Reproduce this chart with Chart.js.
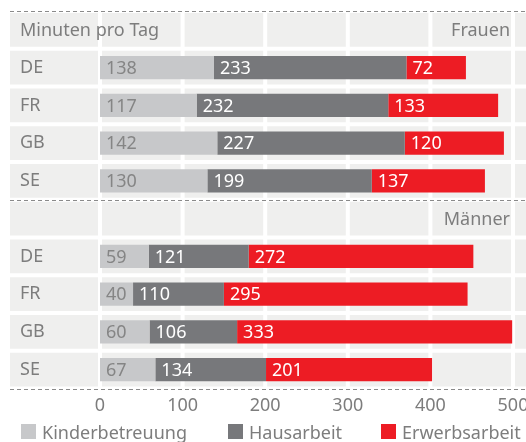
<!DOCTYPE html>
<html>
<head>
<meta charset="utf-8">
<script src="https://cdn.jsdelivr.net/npm/chart.js@4/dist/chart.umd.min.js"></script>
<style>
  html, body { margin: 0; padding: 0; background: #fff; }
  #wrap { position: relative; width: 526px; height: 442px; overflow: hidden; }
  #c { position: absolute; left: 0; top: 0; }
  .lg { position: absolute; top: 424px; height: 15px; display: flex; align-items: center; white-space: nowrap;
        font-family: "Noto Sans", sans-serif; font-size: 18px; color: #7d7d7d; }
  .lg i { display: inline-block; width: 15px; height: 15px; margin-right: 6px; }
</style>
</head>
<body>
<div id="wrap">
  <canvas id="c" width="526" height="442"></canvas>
  <div id="legend"></div>
</div>
<script>
// ---- data ----
const categories = ['Minuten pro Tag', 'DE', 'FR', 'GB', 'SE', '', 'DE', 'FR', 'GB', 'SE'];
const headerRows = [0, 5];
const panelTitles = ['Frauen', 'Männer'];
const seriesNames = ['Kinderbetreuung', 'Hausarbeit', 'Erwerbsarbeit'];
const kinderbetreuung = [null, 138, 117, 142, 130, null, 59, 40, 60, 67];
const hausarbeit      = [null, 233, 232, 227, 199, null, 121, 110, 106, 134];
const erwerbsarbeit   = [null, 72, 133, 120, 137, null, 272, 295, 333, 201];
const xTicks = [0, 100, 200, 300, 400, 500];

// ---- styles ----
const colors = ['#c7c8ca', '#77787b', '#ed1c24'];
const labelColors = ['#858585', '#ffffff', '#ffffff'];
const textGray = '#7d7d7d';
const cellGray = '#efefee';
const FONT = '"Noto Sans", sans-serif';

const bgPlugin = {
  id: 'cells',
  beforeDraw(chart) {
    const ctx = chart.ctx, x = chart.scales.x, y = chart.scales.y, area = chart.chartArea;
    const W = chart.width;
    const n = categories.length;
    const h = (area.bottom - area.top) / n;
    const edges = [10];
    xTicks.forEach(v => edges.push(x.getPixelForValue(v)));
    edges.push(W + 4);
    ctx.save();
    ctx.fillStyle = cellGray;
    for (let r = 0; r < n; r++) {
      const y0 = area.top + r * h + 2, y1 = area.top + (r + 1) * h - 2;
      for (let c = 0; c < edges.length - 1; c++) {
        const x0 = c === 0 ? edges[0] : edges[c] + 2;
        const x1 = edges[c + 1] - 2;
        ctx.fillRect(x0, y0, x1 - x0, y1 - y0);
      }
    }
    // dashed separators
    ctx.strokeStyle = '#8a8a8a';
    ctx.lineWidth = 1;
    ctx.setLineDash([4, 3]);
    [0, 5, 10].forEach(r => {
      const yy = Math.round(area.top + r * h) + 0.5;
      ctx.beginPath();
      ctx.moveTo(10, yy);
      ctx.lineTo(W, yy);
      ctx.stroke();
    });
    ctx.setLineDash([]);
    // header rows: axis caption (left) and panel titles (right)
    ctx.font = '18px ' + FONT;
    ctx.fillStyle = textGray;
    ctx.textBaseline = 'middle';
    headerRows.forEach((r, i) => {
      const yy = y.getPixelForValue(r) + 1;
      if (categories[r]) {
        ctx.textAlign = 'left';
        ctx.fillText(categories[r], 20, yy);
      }
      ctx.textAlign = 'right';
      ctx.fillText(panelTitles[i], x.getPixelForValue(500) - 3, yy);
    });
    ctx.restore();
  },
  afterDatasetsDraw(chart) {
    const ctx = chart.ctx;
    ctx.save();
    ctx.font = '18px ' + FONT;
    ctx.textAlign = 'left';
    ctx.textBaseline = 'middle';
    chart.data.datasets.forEach((ds, di) => {
      const meta = chart.getDatasetMeta(di);
      meta.data.forEach((el, i) => {
        const v = ds.data[i];
        if (v == null) return;
        ctx.fillStyle = labelColors[di];
        ctx.fillText(String(v), Math.min(el.x, el.base) + 6, el.y + 1);
      });
    });
    ctx.restore();
  }
};

const chart = new Chart(document.getElementById('c'), {
  type: 'bar',
  data: {
    labels: categories,
    datasets: [
      { label: seriesNames[0], data: kinderbetreuung, backgroundColor: colors[0] },
      { label: seriesNames[1], data: hausarbeit, backgroundColor: colors[1] },
      { label: seriesNames[2], data: erwerbsarbeit, backgroundColor: colors[2] }
    ]
  },
  options: {
    indexAxis: 'y',
    responsive: false,
    animation: false,
    devicePixelRatio: 1,
    layout: { padding: { top: 11, right: 13, bottom: 0, left: 20 } },
    datasets: { bar: { categoryPercentage: 1, barPercentage: 0.61, borderWidth: 0 } },
    plugins: { legend: { display: false }, tooltip: { enabled: false } },
    scales: {
      x: {
        stacked: true, min: 0, max: 500,
        afterBuildTicks: s => { s.ticks = xTicks.map(v => ({ value: v })); },
        afterFit: s => { s.paddingLeft = 0; s.paddingRight = 0; s.height = 53.5; },
        grid: { display: false, drawTicks: false },
        border: { display: false },
        ticks: { padding: 7, color: textGray, font: { family: FONT, size: 18 } }
      },
      y: {
        stacked: true,
        afterFit: s => { s.width = 80; s.paddingTop = 0; s.paddingBottom = 0; },
        grid: { display: false, drawTicks: false },
        border: { display: false },
        ticks: { autoSkip: false, crossAlign: 'far', padding: 0, color: textGray,
                 font: { family: FONT, size: 18 },
                 callback: (v, i) => headerRows.includes(i) ? '' : categories[i] }
      }
    }
  },
  plugins: [bgPlugin]
});

// ---- HTML legend ----
const legendLeft = [21, 228, 381];
const lg = document.getElementById('legend');
seriesNames.forEach((name, i) => {
  const d = document.createElement('div');
  d.className = 'lg';
  d.style.left = legendLeft[i] + 'px';
  const sw = document.createElement('i');
  sw.style.background = colors[i];
  d.appendChild(sw);
  d.appendChild(document.createTextNode(name));
  lg.appendChild(d);
});
</script>
</body>
</html>
